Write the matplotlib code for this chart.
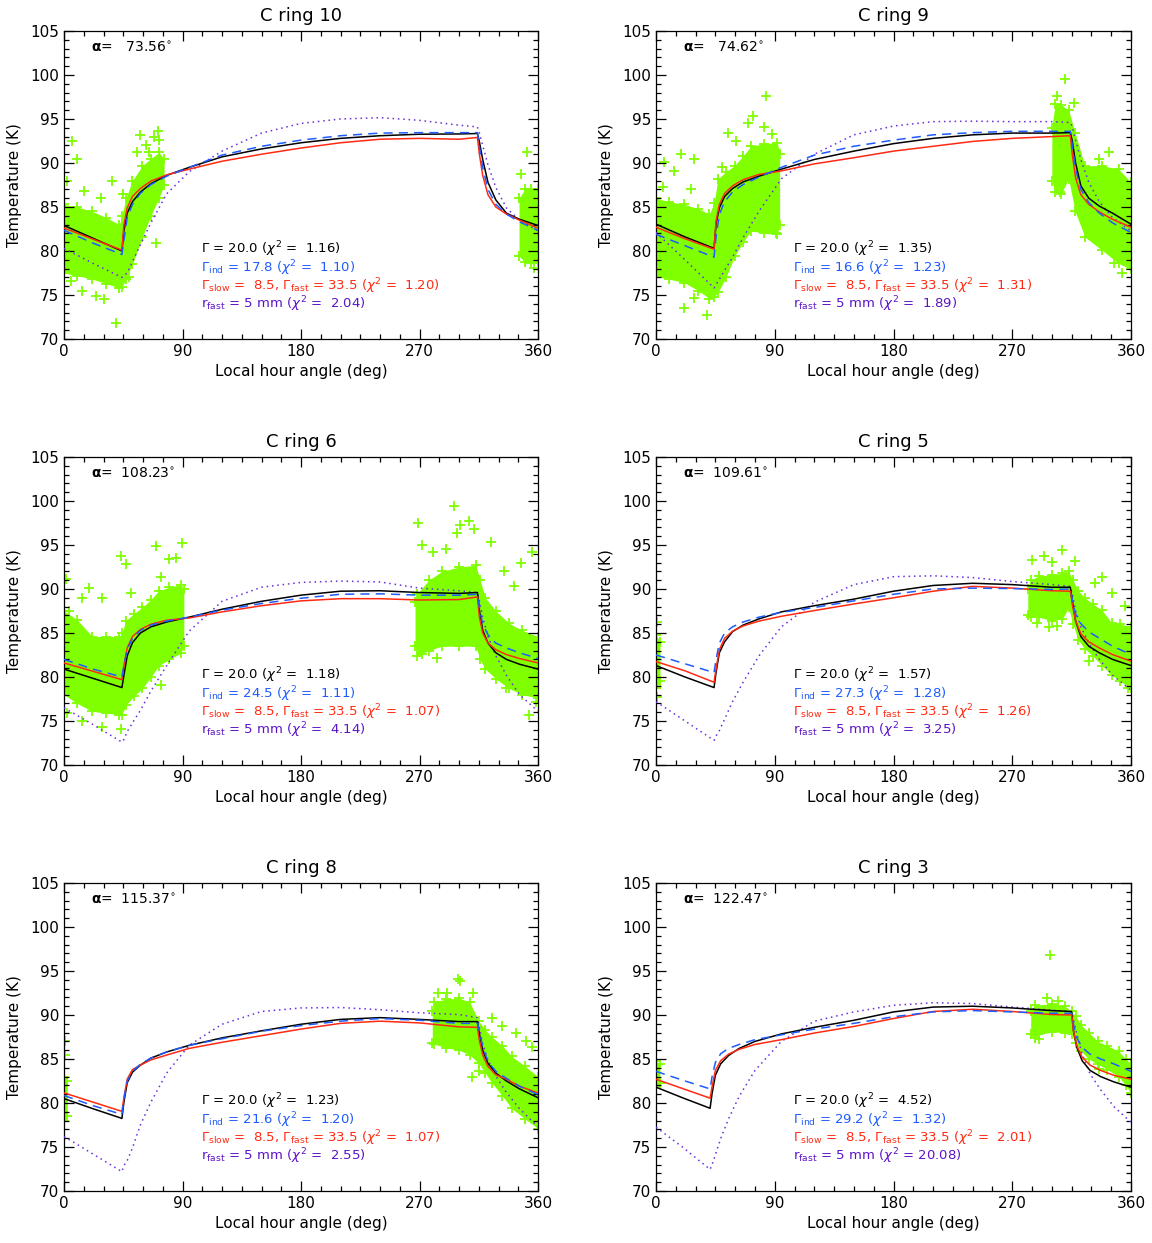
import matplotlib
matplotlib.use('Agg')
import matplotlib.pyplot as plt
from matplotlib.ticker import MultipleLocator

plt.rcParams['font.family'] = ['DejaVu Sans']
plt.rcParams['mathtext.fontset'] = 'dejavusans'

# ---- fit summary for each ring ----
rings = ['C ring 10', 'C ring 9', 'C ring 6', 'C ring 5', 'C ring 8', 'C ring 3']
alpha_deg = [73.56, 74.62, 108.23, 109.61, 115.37, 122.47]
gamma_fixed = 20.0
gamma_ind = [17.8, 16.6, 24.5, 27.3, 21.6, 29.2]
gamma_slow = 8.5
gamma_fast = 33.5
r_fast_mm = 5
chi2_gamma = [1.16, 1.35, 1.18, 1.57, 1.23, 4.52]
chi2_ind = [1.10, 1.23, 1.11, 1.28, 1.20, 1.32]
chi2_slowfast = [1.20, 1.31, 1.07, 1.26, 1.07, 2.01]
chi2_rfast = [2.04, 1.89, 4.14, 3.25, 2.55, 20.08]

# ---- model curves (hour angle in deg, temperature in K) ----
ha_model = [0, 22, 44, 45.5, 48, 52, 58, 66, 78, 95, 120, 150, 180, 210, 240,
            270, 300, 314, 315.5, 318, 322, 328, 336, 346, 360]
ha_model_c3 = [0, 20, 41, 42.5, 45, 49, 55, 63, 75, 95, 120, 150, 180, 210, 240,
               270, 300, 315, 316.5, 319, 323, 329, 337, 347, 360]

t_gamma = [
    [82.9, 81.45, 80.0, 82.3, 84.3, 85.6, 86.7, 87.65, 88.6, 89.5, 90.7, 91.6, 92.3,
     92.8, 93.1, 93.27, 93.3, 93.35, 92.4, 90.4, 87.8, 85.8, 84.3, 83.6, 82.9],
    [83.05, 81.6, 80.3, 83.05, 84.9, 86.2, 87.1, 87.85, 88.5, 89.3, 90.4, 91.35, 92.2,
     92.8, 93.2, 93.4, 93.4, 93.45, 92.5, 90.0, 87.4, 86.0, 85.1, 84.3, 83.05],
    [80.9, 79.85, 78.8, 80.2, 82.4, 83.9, 85.0, 85.7, 86.25, 86.8, 87.7, 88.6, 89.3,
     89.75, 89.8, 89.6, 89.5, 89.6, 87.55, 85.3, 83.85, 82.75, 82.0, 81.45, 80.9],
    [81.3, 80.0, 78.8, 80.5, 82.75, 84.0, 85.15, 85.9, 86.6, 87.4, 88.1, 88.85, 89.75,
     90.4, 90.65, 90.5, 90.2, 90.2, 88.65, 86.4, 84.6, 83.5, 82.75, 82.0, 81.3],
    [80.5, 79.35, 78.25, 80.1, 82.3, 83.5, 84.3, 85.1, 85.8, 86.55, 87.4, 88.2, 88.95,
     89.5, 89.7, 89.5, 89.25, 89.25, 87.85, 86.0, 84.5, 83.4, 82.5, 81.6, 80.6],
    [81.8, 80.6, 79.4, 81.1, 83.15, 84.45, 85.4, 86.2, 87.0, 87.85, 88.6, 89.4, 90.35,
     90.9, 91.0, 90.8, 90.5, 90.4, 88.1, 86.3, 84.8, 83.7, 83.0, 82.4, 81.8],
]
t_ind = [
    [82.35, 80.9, 79.6, 81.2, 83.8, 85.3, 86.55, 87.55, 88.5, 89.5, 90.9, 91.9, 92.6,
     93.1, 93.4, 93.45, 93.45, 93.45, 91.8, 89.5, 87.0, 85.3, 84.2, 83.3, 82.35],
    [81.9, 80.6, 79.3, 81.6, 84.15, 85.6, 86.7, 87.55, 88.4, 89.5, 90.9, 91.9, 92.6,
     93.2, 93.45, 93.6, 93.6, 93.6, 92.0, 89.3, 87.0, 85.5, 84.3, 83.2, 82.1],
    [82.0, 80.9, 80.0, 81.3, 83.1, 84.4, 85.3, 85.9, 86.35, 86.8, 87.6, 88.35, 88.95,
     89.4, 89.45, 89.3, 89.3, 89.4, 87.9, 86.05, 84.8, 83.85, 83.3, 82.75, 82.1],
    [82.5, 81.5, 80.5, 82.0, 83.85, 85.0, 85.7, 86.25, 86.8, 87.35, 87.9, 88.65, 89.4,
     90.0, 90.1, 90.05, 89.95, 90.0, 88.8, 87.2, 86.05, 85.15, 84.4, 83.5, 82.55],
    [80.85, 79.7, 78.7, 80.5, 82.5, 83.6, 84.4, 85.1, 85.8, 86.55, 87.3, 88.15, 88.8,
     89.3, 89.6, 89.4, 89.05, 89.05, 88.2, 86.4, 84.7, 83.6, 82.8, 81.9, 80.95],
    [83.6, 82.6, 81.6, 83.0, 84.6, 85.6, 86.2, 86.65, 87.2, 87.75, 88.4, 89.05, 89.8,
     90.35, 90.5, 90.35, 90.2, 90.2, 88.9, 87.4, 86.3, 85.55, 85.0, 84.45, 83.6],
]
t_slowfast = [
    [82.6, 81.35, 80.1, 83.0, 84.9, 86.2, 87.1, 87.95, 88.65, 89.3, 90.2, 91.0, 91.7,
     92.3, 92.7, 92.8, 92.7, 92.9, 91.0, 88.6, 86.4, 85.0, 84.2, 83.5, 82.6],
    [82.7, 81.4, 80.2, 83.4, 85.3, 86.55, 87.4, 88.1, 88.7, 89.1, 89.9, 90.6, 91.35,
     91.9, 92.45, 92.8, 93.0, 93.1, 91.0, 88.3, 86.4, 85.3, 84.45, 83.6, 82.7],
    [81.6, 80.65, 79.7, 81.3, 83.3, 84.6, 85.4, 86.0, 86.45, 86.7, 87.4, 88.1, 88.65,
     88.9, 88.9, 88.75, 88.8, 89.1, 86.8, 85.0, 83.85, 83.1, 82.55, 82.1, 81.6],
    [81.75, 80.7, 79.4, 80.9, 83.1, 84.4, 85.2, 85.8, 86.35, 86.9, 87.55, 88.3, 89.0,
     89.75, 90.3, 90.1, 89.8, 89.75, 88.25, 86.4, 84.9, 84.0, 83.3, 82.55, 81.8],
    [81.15, 80.1, 79.05, 80.6, 82.7, 83.8, 84.3, 84.9, 85.45, 86.2, 86.9, 87.65, 88.4,
     89.05, 89.3, 89.1, 88.65, 88.6, 87.1, 85.45, 84.15, 83.2, 82.7, 81.9, 81.15],
    [82.7, 81.65, 80.55, 81.85, 83.7, 84.8, 85.55, 86.1, 86.65, 87.2, 87.95, 88.7, 89.6,
     90.4, 90.65, 90.4, 90.05, 90.0, 88.1, 86.5, 85.2, 84.3, 83.7, 83.15, 82.7],
]
t_rfast = [
    [80.3, 78.6, 77.0, 77.2, 77.5, 78.8, 80.7, 83.2, 86.5, 89.0, 91.35, 93.4, 94.5,
     95.0, 95.15, 94.85, 94.3, 94.1, 93.4, 92.0, 89.8, 87.2, 84.9, 83.5, 82.3],
    [82.1, 79.0, 75.8, 76.2, 76.8, 77.8, 79.3, 81.5, 84.5, 88.2, 91.0, 93.2, 94.2,
     94.7, 94.75, 94.7, 94.7, 94.6, 94.1, 92.6, 90.4, 87.8, 85.6, 83.8, 82.3],
    [76.5, 74.6, 72.6, 72.9, 73.8, 74.8, 76.2, 78.4, 81.3, 85.2, 88.6, 90.2, 90.75,
     90.9, 90.8, 90.1, 89.8, 89.6, 88.65, 86.8, 84.6, 82.4, 80.2, 78.0, 76.1],
    [77.2, 75.0, 72.8, 73.3, 73.9, 75.2, 77.2, 79.4, 82.4, 85.7, 88.5, 90.5, 91.4,
     91.5, 91.3, 90.85, 90.5, 90.3, 89.4, 87.55, 85.7, 83.85, 82.0, 80.2, 78.5],
    [76.2, 74.2, 72.2, 72.9, 73.45, 74.9, 77.5, 80.1, 83.4, 86.55, 88.95, 90.4, 90.8,
     90.85, 90.6, 90.25, 90.05, 89.7, 88.6, 86.7, 84.9, 83.05, 81.2, 79.35, 77.3],
    [77.25, 75.0, 72.45, 73.0, 74.1, 75.95, 78.2, 80.75, 83.7, 87.0, 89.3, 90.35, 91.1,
     91.4, 91.3, 90.9, 90.55, 90.35, 89.4, 87.8, 85.55, 83.3, 81.5, 79.6, 77.8],
]

# ---- CIRS measurements: dense core (hour angle, low T, high T) ----
core_c10 = [([0, 10, 21.5, 32, 42, 44, 47, 52, 59.5, 66, 72, 76],
             [77.5, 77.2, 76.8, 76.3, 75.8, 75.9, 76.8, 78.5, 81.6, 84.0, 86.0, 87.5],
             [85.3, 85.0, 84.5, 83.8, 83.0, 84.0, 86.0, 88.0, 89.7, 90.5, 91.2, 90.5]),
            ([345.6, 350, 355, 360], [79.4, 78.8, 78.6, 78.6], [86.0, 87.0, 87.1, 87.1])]
core_c9 = [([0, 10, 21.5, 32, 40.5, 44, 47, 53, 59.5, 66, 72, 82, 92, 93.7],
            [77.1, 76.8, 76.4, 75.5, 74.6, 74.8, 75.3, 77.0, 79.4, 81.0, 82.3, 82.0, 81.9, 83.0],
            [86.0, 85.6, 85.3, 84.8, 84.2, 85.5, 88.2, 89.0, 89.7, 90.8, 91.9, 92.2, 92.3, 91.0]),
           ([300, 302.5, 307, 312.7, 317.7, 325, 338, 350.6, 360],
            [88.0, 86.7, 86.5, 88.2, 84.5, 81.6, 80.1, 78.6, 77.9],
            [94.0, 96.7, 96.6, 96.0, 93.4, 89.7, 89.7, 89.3, 87.8])]
core_c6 = [([0, 10, 21.5, 32, 42, 44, 47, 53, 59.5, 66, 72, 80, 88.6, 91],
            [78.0, 77.0, 76.1, 75.9, 75.7, 75.7, 76.8, 77.8, 78.7, 80.0, 81.3, 82.0, 82.7, 83.5],
            [87.5, 86.5, 84.6, 84.6, 84.6, 85.0, 86.4, 87.2, 87.9, 88.8, 89.8, 90.2, 90.5, 90.0]),
           ([266.6, 268, 277, 287, 300, 312.7, 316, 320, 328, 338, 348, 360],
            [83.5, 82.4, 83.0, 83.5, 83.5, 83.5, 82.0, 80.9, 79.8, 78.7, 78.0, 77.6],
            [88.5, 89.4, 91.0, 92.0, 92.5, 92.7, 91.0, 89.0, 87.5, 86.1, 85.3, 84.6])]
core_c5 = [([0, 3], [78.7, 79.5], [84.8, 84.0]),
           ([281.8, 284, 290, 300, 308, 312.7, 316, 320, 325, 331, 338, 345.6, 352, 360],
            [87.0, 86.8, 86.8, 86.4, 86.6, 87.9, 86.0, 84.2, 83.2, 82.4, 81.3, 80.2, 79.5, 78.7],
            [90.0, 91.0, 91.5, 91.6, 91.8, 92.0, 91.0, 89.8, 89.0, 88.3, 87.6, 86.1, 86.0, 85.7])]
core_c8 = [([0, 2.5], [77.9, 78.5], [83.0, 82.5]),
           ([279.7, 281, 290, 300, 308, 315, 320, 325, 333, 340, 350, 360],
            [86.8, 86.7, 86.3, 86.0, 85.5, 84.5, 83.4, 82.3, 80.8, 79.4, 78.2, 77.1],
            [90.5, 91.5, 91.8, 91.9, 91.5, 89.3, 88.3, 87.5, 86.5, 85.3, 84.2, 83.0])]
core_c3 = [([0, 3], [81.9, 82.3], [84.8, 84.4]),
           ([284, 287, 300, 310, 315, 318, 322, 328, 335, 342, 350.6, 356, 360],
            [87.8, 87.6, 88.1, 88.0, 87.8, 86.8, 85.9, 85.0, 84.4, 83.8, 83.0, 82.0, 81.1],
            [90.5, 91.1, 91.3, 91.0, 90.4, 89.9, 88.9, 88.0, 87.0, 86.5, 85.9, 85.0, 84.4])]

# ---- isolated measurements outside the core (hour angle, T) ----
scatter_c10 = [(2, 88.0), (5, 76.6), (6, 92.5), (10, 90.5), (13.4, 75.4), (15, 86.8),
               (24, 74.9), (27.8, 86.0), (30.4, 74.6), (36.7, 88.0), (39.7, 71.8),
               (45, 86.5), (49.4, 77.1), (55.7, 91.2), (58, 93.2), (62, 92.0),
               (64.6, 91.2), (68, 93.0), (69.6, 80.9), (71.6, 93.6), (72, 92.6),
               (346.8, 88.8), (349, 79.4), (351.4, 91.3), (356.9, 78.1)]
scatter_c9 = [(5, 87.3), (6.3, 90.1), (14, 89.1), (19, 91.0), (21.5, 73.5), (26.6, 87.1),
              (28.6, 90.5), (29, 74.7), (33, 75.8), (39, 72.7), (49.9, 89.5), (54.4, 93.4),
              (60.8, 92.5), (69.6, 94.5), (73.4, 95.3), (81.8, 94.1), (83.5, 97.6),
              (88, 93.3), (91, 82.1), (303.8, 97.6), (306, 86.7), (309.6, 99.5),
              (316.5, 96.8), (335.4, 90.4), (343, 91.2), (346.8, 78.6), (353, 77.5)]
scatter_c6 = [(1.3, 91.1), (2, 75.9), (3.8, 87.5), (14, 89.0), (14, 75.0), (19, 90.1),
              (29, 89.0), (29, 74.3), (43, 74.1), (43, 93.7), (46.8, 92.8), (50.6, 89.6),
              (69.6, 94.9), (73.4, 91.4), (73.4, 79.1), (80, 93.4), (84.8, 93.5),
              (89.4, 95.2), (268.9, 97.5), (271.6, 95.0), (272, 82.6), (280, 94.2),
              (283.5, 82.2), (290, 94.6), (296, 99.4), (298.7, 96.4), (301, 97.3),
              (307.6, 97.7), (311.5, 96.8), (324, 95.3), (334, 92.0), (336, 78.7),
              (341.8, 90.3), (347, 93.0), (353, 75.7), (355.7, 94.2), (358.2, 77.2)]
scatter_c5 = [(1, 86.3), (1, 77.7), (284.8, 93.3), (288.6, 86.1), (294, 93.8),
              (297.5, 85.7), (300, 93.1), (303.7, 85.8), (308, 94.4), (317.7, 93.2),
              (328, 81.8), (333, 90.7), (338, 91.4), (345.6, 89.6), (355.7, 88.1),
              (358, 78.7)]
scatter_c8 = [(0.5, 87.1), (1, 85.5), (284, 92.5), (291, 92.5), (299.5, 94.1),
              (301, 93.9), (310, 83.0), (311, 92.5), (315, 83.6), (325, 89.7),
              (333, 88.8), (343, 88.0), (350.6, 87.1), (355.7, 86.4)]
scatter_c3 = [(287, 87.4), (290, 87.3), (296, 91.9), (298.7, 96.8), (305, 91.6),
              (336, 83.9)]

cores = [core_c10, core_c9, core_c6, core_c5, core_c8, core_c3]
scatters = [scatter_c10, scatter_c9, scatter_c6, scatter_c5, scatter_c8, scatter_c3]
grids = [ha_model, ha_model, ha_model, ha_model, ha_model, ha_model_c3]

GREEN = '#7fff00'
BLUE = '#1f5cff'
RED = '#ff2a12'
PURPLE = '#6a2ee0'
PURPLE_TXT = '#5a14c8'

W, H = 1152, 1243
fig = plt.figure(figsize=(W / 100, H / 100), dpi=100)

col_left = [64, 656]
col_width = [474, 475]
row_top = [31, 457, 883]
row_height = 308

for i in range(6):
    r, c = divmod(i, 2)
    rect = [col_left[c] / W, 1 - (row_top[r] + row_height) / H,
            col_width[c] / W, row_height / H]
    ax = fig.add_axes(rect)

    # measured temperatures
    for ha, lo, hi in cores[i]:
        ax.fill_between(ha, lo, hi, color=GREEN, lw=0, zorder=1)
        ax.plot(ha, lo, '+', color=GREEN, ms=7, mew=1.3, zorder=1)
        ax.plot(ha, hi, '+', color=GREEN, ms=7, mew=1.3, zorder=1)
    sx = [p[0] for p in scatters[i]]
    sy = [p[1] for p in scatters[i]]
    ax.plot(sx, sy, '+', color=GREEN, ms=7, mew=1.3, ls='none', zorder=1)

    # thermal models
    ha = grids[i]
    ax.plot(ha, t_rfast[i], color=PURPLE, ls=(0, (1, 2.5)), lw=1.1, zorder=3)
    ax.plot(ha, t_gamma[i], color='black', lw=1.1, zorder=4)
    ax.plot(ha, t_slowfast[i], color=RED, lw=1.1, zorder=5)
    ax.plot(ha, t_ind[i], color=BLUE, ls=(0, (6, 4)), lw=1.1, zorder=6)

    ax.set_xlim(0, 360)
    ax.set_ylim(70, 105)
    ax.xaxis.set_major_locator(MultipleLocator(90))
    ax.xaxis.set_minor_locator(MultipleLocator(15))
    ax.yaxis.set_major_locator(MultipleLocator(5))
    ax.yaxis.set_minor_locator(MultipleLocator(1))
    ax.tick_params(which='both', direction='in', top=True, right=True, labelsize=11)
    ax.tick_params(which='major', length=7, width=0.9)
    ax.tick_params(which='minor', length=3.5, width=0.9)
    for s in ax.spines.values():
        s.set_linewidth(0.9)

    ax.set_title(rings[i], fontsize=13, pad=7)
    ax.set_xlabel('Local hour angle (deg)', fontsize=11, labelpad=4)
    ax.set_ylabel('Temperature (K)', fontsize=11, labelpad=6)

    ax.text(20.5, 103.1, r'$\mathbf{\alpha}$=  %6.2f$^{\circ}$' % alpha_deg[i],
            fontsize=10, va='center', ha='left')

    rows = [
        (r'$\Gamma$ = %.1f ($\chi^2$ =%6.2f)' % (gamma_fixed, chi2_gamma[i]), 'black'),
        (r'$\Gamma_{\rm ind}$ = %.1f ($\chi^2$ =%6.2f)' % (gamma_ind[i], chi2_ind[i]), BLUE),
        (r'$\Gamma_{\rm slow}$ =%5.1f, $\Gamma_{\rm fast}$ = %.1f ($\chi^2$ =%6.2f)'
         % (gamma_slow, gamma_fast, chi2_slowfast[i]), RED),
        (r'r$_{\rm fast}$ = %d mm ($\chi^2$ =%6.2f)' % (r_fast_mm, chi2_rfast[i]), PURPLE_TXT),
    ]
    for k, (txt, col) in enumerate(rows):
        ax.text(104, 80.2 - 2.1 * k, txt, color=col, fontsize=9.5, va='center', ha='left')

fig.savefig('out.png', dpi=100)
